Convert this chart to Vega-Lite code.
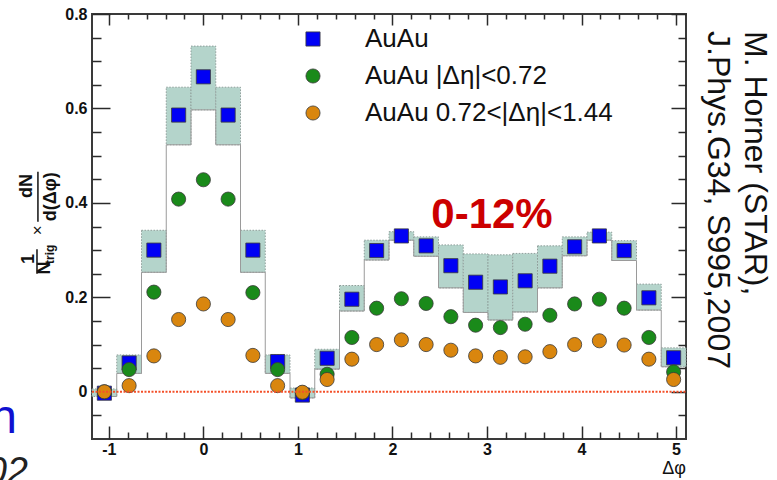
{
  "$schema": "https://vega.github.io/schema/vega-lite/v6.json",
  "width": 594,
  "height": 425,
  "autosize": {"type": "none"},
  "padding": {"left": 92, "top": 14, "right": 91, "bottom": 41},
  "background": "#ffffff",
  "config": {
    "font": "Liberation Sans",
    "view": {"stroke": "#3a3a3a", "strokeWidth": 2},
    "legend": {
      "orient": "none",
      "legendX": 208,
      "legendY": 12,
      "padding": 0,
      "labelFont": "Liberation Sans",
      "labelFontSize": 26,
      "labelColor": "#111111",
      "labelLimit": 0,
      "labelOffset": 39,
      "rowPadding": 11,
      "symbolSize": 200,
      "symbolStrokeColor": "#3a3a3a",
      "symbolStrokeWidth": 0.8
    }
  },
  "datasets": {
    "bins": [
      {"phi": -1.0472, "left": -1.1781, "right": -0.9163, "sys_lo": -0.010, "sys_hi": 0.006},
      {"phi": -0.7854, "left": -0.9163, "right": -0.6545, "sys_lo": 0.039, "sys_hi": 0.078},
      {"phi": -0.5236, "left": -0.6545, "right": -0.3927, "sys_lo": 0.253, "sys_hi": 0.342},
      {"phi": -0.2618, "left": -0.3927, "right": -0.1309, "sys_lo": 0.523, "sys_hi": 0.645},
      {"phi": 0.0, "left": -0.1309, "right": 0.1309, "sys_lo": 0.597, "sys_hi": 0.732},
      {"phi": 0.2618, "left": 0.1309, "right": 0.3927, "sys_lo": 0.523, "sys_hi": 0.645},
      {"phi": 0.5236, "left": 0.3927, "right": 0.6545, "sys_lo": 0.253, "sys_hi": 0.342},
      {"phi": 0.7854, "left": 0.6545, "right": 0.9163, "sys_lo": 0.039, "sys_hi": 0.078},
      {"phi": 1.0472, "left": 0.9163, "right": 1.1781, "sys_lo": -0.013, "sys_hi": 0.008},
      {"phi": 1.309, "left": 1.1781, "right": 1.4399, "sys_lo": 0.048, "sys_hi": 0.090},
      {"phi": 1.5708, "left": 1.4399, "right": 1.7017, "sys_lo": 0.171, "sys_hi": 0.225},
      {"phi": 1.8326, "left": 1.7017, "right": 1.9635, "sys_lo": 0.279, "sys_hi": 0.321},
      {"phi": 2.0944, "left": 1.9635, "right": 2.2253, "sys_lo": 0.321, "sys_hi": 0.339},
      {"phi": 2.3562, "left": 2.2253, "right": 2.4871, "sys_lo": 0.287, "sys_hi": 0.328},
      {"phi": 2.618, "left": 2.4871, "right": 2.7489, "sys_lo": 0.220, "sys_hi": 0.311},
      {"phi": 2.8798, "left": 2.7489, "right": 3.0107, "sys_lo": 0.168, "sys_hi": 0.292},
      {"phi": 3.1416, "left": 3.0107, "right": 3.2725, "sys_lo": 0.152, "sys_hi": 0.290},
      {"phi": 3.4034, "left": 3.2725, "right": 3.5343, "sys_lo": 0.169, "sys_hi": 0.293},
      {"phi": 3.6652, "left": 3.5343, "right": 3.7961, "sys_lo": 0.220, "sys_hi": 0.309},
      {"phi": 3.927, "left": 3.7961, "right": 4.0579, "sys_lo": 0.288, "sys_hi": 0.328},
      {"phi": 4.1888, "left": 4.0579, "right": 4.3197, "sys_lo": 0.321, "sys_hi": 0.338},
      {"phi": 4.4506, "left": 4.3197, "right": 4.5815, "sys_lo": 0.278, "sys_hi": 0.320},
      {"phi": 4.7124, "left": 4.5815, "right": 4.8433, "sys_lo": 0.173, "sys_hi": 0.228},
      {"phi": 4.9742, "left": 4.8433, "right": 5.1051, "sys_lo": 0.053, "sys_hi": 0.093}
    ],
    "points": [
      {"phi": -1.0472, "series": "AuAu", "yield": -0.003},
      {"phi": -0.7854, "series": "AuAu", "yield": 0.061},
      {"phi": -0.5236, "series": "AuAu", "yield": 0.300},
      {"phi": -0.2618, "series": "AuAu", "yield": 0.586},
      {"phi": 0.0, "series": "AuAu", "yield": 0.667},
      {"phi": 0.2618, "series": "AuAu", "yield": 0.586},
      {"phi": 0.5236, "series": "AuAu", "yield": 0.300},
      {"phi": 0.7854, "series": "AuAu", "yield": 0.064},
      {"phi": 1.0472, "series": "AuAu", "yield": -0.007},
      {"phi": 1.309, "series": "AuAu", "yield": 0.071},
      {"phi": 1.5708, "series": "AuAu", "yield": 0.196},
      {"phi": 1.8326, "series": "AuAu", "yield": 0.299},
      {"phi": 2.0944, "series": "AuAu", "yield": 0.330},
      {"phi": 2.3562, "series": "AuAu", "yield": 0.309},
      {"phi": 2.618, "series": "AuAu", "yield": 0.267},
      {"phi": 2.8798, "series": "AuAu", "yield": 0.232},
      {"phi": 3.1416, "series": "AuAu", "yield": 0.222},
      {"phi": 3.4034, "series": "AuAu", "yield": 0.235},
      {"phi": 3.6652, "series": "AuAu", "yield": 0.266},
      {"phi": 3.927, "series": "AuAu", "yield": 0.307},
      {"phi": 4.1888, "series": "AuAu", "yield": 0.330},
      {"phi": 4.4506, "series": "AuAu", "yield": 0.299},
      {"phi": 4.7124, "series": "AuAu", "yield": 0.199},
      {"phi": 4.9742, "series": "AuAu", "yield": 0.072},
      {"phi": -1.0472, "series": "AuAu |Δη|<0.72", "yield": 0.000},
      {"phi": -0.7854, "series": "AuAu |Δη|<0.72", "yield": 0.047},
      {"phi": -0.5236, "series": "AuAu |Δη|<0.72", "yield": 0.211},
      {"phi": -0.2618, "series": "AuAu |Δη|<0.72", "yield": 0.408},
      {"phi": 0.0, "series": "AuAu |Δη|<0.72", "yield": 0.449},
      {"phi": 0.2618, "series": "AuAu |Δη|<0.72", "yield": 0.408},
      {"phi": 0.5236, "series": "AuAu |Δη|<0.72", "yield": 0.210},
      {"phi": 0.7854, "series": "AuAu |Δη|<0.72", "yield": 0.047},
      {"phi": 1.0472, "series": "AuAu |Δη|<0.72", "yield": -0.002},
      {"phi": 1.309, "series": "AuAu |Δη|<0.72", "yield": 0.037},
      {"phi": 1.5708, "series": "AuAu |Δη|<0.72", "yield": 0.115},
      {"phi": 1.8326, "series": "AuAu |Δη|<0.72", "yield": 0.177},
      {"phi": 2.0944, "series": "AuAu |Δη|<0.72", "yield": 0.197},
      {"phi": 2.3562, "series": "AuAu |Δη|<0.72", "yield": 0.187},
      {"phi": 2.618, "series": "AuAu |Δη|<0.72", "yield": 0.159},
      {"phi": 2.8798, "series": "AuAu |Δη|<0.72", "yield": 0.141},
      {"phi": 3.1416, "series": "AuAu |Δη|<0.72", "yield": 0.136},
      {"phi": 3.4034, "series": "AuAu |Δη|<0.72", "yield": 0.143},
      {"phi": 3.6652, "series": "AuAu |Δη|<0.72", "yield": 0.162},
      {"phi": 3.927, "series": "AuAu |Δη|<0.72", "yield": 0.186},
      {"phi": 4.1888, "series": "AuAu |Δη|<0.72", "yield": 0.196},
      {"phi": 4.4506, "series": "AuAu |Δη|<0.72", "yield": 0.177},
      {"phi": 4.7124, "series": "AuAu |Δη|<0.72", "yield": 0.115},
      {"phi": 4.9742, "series": "AuAu |Δη|<0.72", "yield": 0.042},
      {"phi": -1.0472, "series": "AuAu 0.72<|Δη|<1.44", "yield": 0.000},
      {"phi": -0.7854, "series": "AuAu 0.72<|Δη|<1.44", "yield": 0.013},
      {"phi": -0.5236, "series": "AuAu 0.72<|Δη|<1.44", "yield": 0.076},
      {"phi": -0.2618, "series": "AuAu 0.72<|Δη|<1.44", "yield": 0.153},
      {"phi": 0.0, "series": "AuAu 0.72<|Δη|<1.44", "yield": 0.186},
      {"phi": 0.2618, "series": "AuAu 0.72<|Δη|<1.44", "yield": 0.153},
      {"phi": 0.5236, "series": "AuAu 0.72<|Δη|<1.44", "yield": 0.077},
      {"phi": 0.7854, "series": "AuAu 0.72<|Δη|<1.44", "yield": 0.013},
      {"phi": 1.0472, "series": "AuAu 0.72<|Δη|<1.44", "yield": -0.001},
      {"phi": 1.309, "series": "AuAu 0.72<|Δη|<1.44", "yield": 0.026},
      {"phi": 1.5708, "series": "AuAu 0.72<|Δη|<1.44", "yield": 0.069},
      {"phi": 1.8326, "series": "AuAu 0.72<|Δη|<1.44", "yield": 0.100},
      {"phi": 2.0944, "series": "AuAu 0.72<|Δη|<1.44", "yield": 0.110},
      {"phi": 2.3562, "series": "AuAu 0.72<|Δη|<1.44", "yield": 0.100},
      {"phi": 2.618, "series": "AuAu 0.72<|Δη|<1.44", "yield": 0.088},
      {"phi": 2.8798, "series": "AuAu 0.72<|Δη|<1.44", "yield": 0.076},
      {"phi": 3.1416, "series": "AuAu 0.72<|Δη|<1.44", "yield": 0.073},
      {"phi": 3.4034, "series": "AuAu 0.72<|Δη|<1.44", "yield": 0.074},
      {"phi": 3.6652, "series": "AuAu 0.72<|Δη|<1.44", "yield": 0.085},
      {"phi": 3.927, "series": "AuAu 0.72<|Δη|<1.44", "yield": 0.100},
      {"phi": 4.1888, "series": "AuAu 0.72<|Δη|<1.44", "yield": 0.108},
      {"phi": 4.4506, "series": "AuAu 0.72<|Δη|<1.44", "yield": 0.099},
      {"phi": 4.7124, "series": "AuAu 0.72<|Δη|<1.44", "yield": 0.069},
      {"phi": 4.9742, "series": "AuAu 0.72<|Δη|<1.44", "yield": 0.026}
    ]
  },
  "layer": [
    {
      "layer": [
        {
          "data": {"name": "bins"},
          "mark": {"type": "rect", "fill": "#b4d4cb", "stroke": "#8f9e9a", "strokeWidth": 1, "strokeDash": [1.5, 1.5]},
          "encoding": {
            "x": {
              "field": "left", "type": "quantitative",
              "scale": {"domain": [-1.1781, 5.1051], "nice": false, "zero": false},
              "axis": {
                "orient": "bottom",
                "values": [-1, -0.8, -0.6, -0.4, -0.2, 0, 0.2, 0.4, 0.6, 0.8, 1, 1.2, 1.4, 1.6, 1.8, 2, 2.2, 2.4, 2.6, 2.8, 3, 3.2, 3.4, 3.6, 3.8, 4, 4.2, 4.4, 4.6, 4.8, 5],
                "tickCount": 200,
                "tickSize": {"expr": "abs(datum.value - round(datum.value)) < 1e-6 ? -13 : -7"},
                "tickColor": "#2a2a2a",
                "tickWidth": 1.5,
                "domain": false,
                "grid": false,
                "labelPadding": 15,
                "labelExpr": "abs(datum.value - round(datum.value)) < 1e-6 ? '' + datum.value : ''",
                "labelFont": "Liberation Sans",
                "labelFontWeight": "bold",
                "labelFontSize": 16,
                "labelColor": "#111111",
                "labelFlush": false,
                "labelOverlap": false,
                "labelBound": false,
                "title": null
              }
            },
            "x2": {"field": "right"},
            "y": {
              "field": "sys_lo", "type": "quantitative",
              "scale": {"domain": [-0.1, 0.8], "nice": false, "zero": false},
              "axis": {
                "orient": "left",
                "values": [-0.05, 0, 0.05, 0.1, 0.15, 0.2, 0.25, 0.3, 0.35, 0.4, 0.45, 0.5, 0.55, 0.6, 0.65, 0.7, 0.75, 0.8],
                "tickCount": 200,
                "tickSize": {"expr": "abs(datum.value * 5 - round(datum.value * 5)) < 1e-6 ? -18 : -9"},
                "tickColor": "#2a2a2a",
                "tickWidth": 1.5,
                "domain": false,
                "grid": false,
                "labelPadding": 23,
                "labelExpr": "abs(datum.value * 5 - round(datum.value * 5)) < 1e-6 ? '' + datum.value : ''",
                "labelFont": "Liberation Sans",
                "labelFontWeight": "bold",
                "labelFontSize": 16,
                "labelColor": "#111111",
                "labelFlush": false,
                "labelOverlap": false,
                "labelBound": false,
                "title": null
              }
            },
            "y2": {"field": "sys_hi"}
          }
        },
        {
          "data": {"name": "bins"},
          "mark": {"type": "line", "interpolate": "step", "stroke": "#9a9a9a", "strokeWidth": 1},
          "encoding": {
            "x": {"field": "phi", "type": "quantitative"},
            "y": {"field": "sys_lo", "type": "quantitative"}
          }
        },
        {
          "data": {"name": "points"},
          "mark": {"type": "point", "filled": true, "opacity": 1, "stroke": "#3a3a3a", "strokeWidth": 0.8},
          "encoding": {
            "x": {"field": "phi", "type": "quantitative"},
            "y": {"field": "yield", "type": "quantitative"},
            "color": {
              "field": "series", "type": "nominal",
              "scale": {"domain": ["AuAu", "AuAu |Δη|<0.72", "AuAu 0.72<|Δη|<1.44"], "range": ["#0000f5", "#1a8a1a", "#d9860e"]},
              "legend": {"title": null}
            },
            "shape": {
              "field": "series", "type": "nominal",
              "scale": {"domain": ["AuAu", "AuAu |Δη|<0.72", "AuAu 0.72<|Δη|<1.44"], "range": ["square", "circle", "circle"]},
              "legend": {"title": null}
            },
            "size": {"value": 200}
          }
        },
        {
          "data": {"values": [{}]},
          "mark": {"type": "text", "text": "0-12%", "font": "Liberation Sans", "fontWeight": "bold", "fontSize": 42, "color": "#cc0000", "align": "center", "baseline": "alphabetic"},
          "encoding": {"x": {"datum": 3.053, "type": "quantitative"}, "y": {"datum": 0.347, "type": "quantitative"}}
        },
        {
          "data": {"values": [{}]},
          "mark": {"type": "text", "text": "M. Horner (STAR),", "font": "Liberation Sans", "fontSize": 32, "color": "#111111", "angle": 90, "align": "left", "baseline": "middle"},
          "encoding": {"x": {"datum": 5.83, "type": "quantitative"}, "y": {"datum": 0.764, "type": "quantitative"}}
        },
        {
          "data": {"values": [{}]},
          "mark": {"type": "text", "text": "J.Phys.G34, S995,2007", "font": "Liberation Sans", "fontSize": 32, "color": "#111111", "angle": 90, "align": "left", "baseline": "middle"},
          "encoding": {"x": {"datum": 5.44, "type": "quantitative"}, "y": {"datum": 0.764, "type": "quantitative"}}
        },
        {
          "data": {"values": [{}]},
          "mark": {"type": "text", "text": "dN", "font": "Liberation Sans", "fontWeight": "bold", "fontSize": 18, "color": "#111111", "angle": 270, "align": "center", "baseline": "middle"},
          "encoding": {"x": {"datum": -1.866, "type": "quantitative"}, "y": {"datum": 0.436, "type": "quantitative"}}
        },
        {
          "data": {"values": [{}]},
          "mark": {"type": "text", "text": "d(Δφ)", "font": "Liberation Sans", "fontWeight": "bold", "fontSize": 18, "color": "#111111", "angle": 270, "align": "center", "baseline": "middle"},
          "encoding": {"x": {"datum": -1.612, "type": "quantitative"}, "y": {"datum": 0.413, "type": "quantitative"}}
        },
        {
          "data": {"values": [{}]},
          "mark": {"type": "rule", "stroke": "#111111", "strokeWidth": 1.5},
          "encoding": {"x": {"datum": -1.75, "type": "quantitative"}, "y": {"datum": 0.466, "type": "quantitative"}, "y2": {"datum": 0.36}}
        },
        {
          "data": {"values": [{}]},
          "mark": {"type": "text", "text": "×", "font": "Liberation Sans", "fontSize": 17, "color": "#111111", "angle": 270, "align": "center", "baseline": "middle"},
          "encoding": {"x": {"datum": -1.75, "type": "quantitative"}, "y": {"datum": 0.342, "type": "quantitative"}}
        },
        {
          "data": {"values": [{}]},
          "mark": {"type": "text", "text": "1", "font": "Liberation Sans", "fontWeight": "bold", "fontSize": 18, "color": "#111111", "angle": 270, "align": "center", "baseline": "middle"},
          "encoding": {"x": {"datum": -1.845, "type": "quantitative"}, "y": {"datum": 0.281, "type": "quantitative"}}
        },
        {
          "data": {"values": [{}]},
          "mark": {"type": "rule", "stroke": "#111111", "strokeWidth": 1.5},
          "encoding": {"x": {"datum": -1.76, "type": "quantitative"}, "y": {"datum": 0.302, "type": "quantitative"}, "y2": {"datum": 0.25}}
        },
        {
          "data": {"values": [{}]},
          "mark": {"type": "text", "text": "N", "font": "Liberation Sans", "fontWeight": "bold", "fontSize": 18, "color": "#111111", "angle": 270, "align": "center", "baseline": "middle"},
          "encoding": {"x": {"datum": -1.67, "type": "quantitative"}, "y": {"datum": 0.262, "type": "quantitative"}}
        },
        {
          "data": {"values": [{}]},
          "mark": {"type": "text", "text": "trig", "font": "Liberation Sans", "fontWeight": "bold", "fontSize": 12, "color": "#111111", "angle": 270, "align": "center", "baseline": "middle"},
          "encoding": {"x": {"datum": -1.625, "type": "quantitative"}, "y": {"datum": 0.291, "type": "quantitative"}}
        },
        {
          "data": {"values": [{}]},
          "mark": {"type": "text", "text": "Δφ", "font": "Liberation Sans", "fontSize": 18, "color": "#111111", "align": "right", "baseline": "alphabetic"},
          "encoding": {"x": {"datum": 5.1051, "type": "quantitative"}, "y": {"datum": -0.175, "type": "quantitative"}}
        },
        {
          "data": {"values": [{}]},
          "mark": {"type": "text", "text": "n", "font": "Liberation Sans", "fontSize": 48, "color": "#1010d0", "align": "right", "baseline": "alphabetic"},
          "encoding": {"x": {"datum": -1.972, "type": "quantitative"}, "y": {"datum": -0.087, "type": "quantitative"}}
        },
        {
          "data": {"values": [{}]},
          "mark": {"type": "text", "text": "02", "font": "Liberation Sans", "fontSize": 38, "fontStyle": "italic", "color": "#222222", "align": "right", "baseline": "alphabetic"},
          "encoding": {"x": {"datum": -1.855, "type": "quantitative"}, "y": {"datum": -0.195, "type": "quantitative"}}
        }
      ]
    },
    {
      "data": {"values": [{}]},
      "mark": {"type": "rule", "stroke": "#f4502a", "strokeWidth": 2, "strokeDash": [2, 1.5]},
      "encoding": {
        "x": {
          "datum": -1.1781, "type": "quantitative",
          "scale": {"domain": [-1.1781, 5.1051], "nice": false, "zero": false},
          "axis": {
            "orient": "top",
            "values": [-1, -0.8, -0.6, -0.4, -0.2, 0, 0.2, 0.4, 0.6, 0.8, 1, 1.2, 1.4, 1.6, 1.8, 2, 2.2, 2.4, 2.6, 2.8, 3, 3.2, 3.4, 3.6, 3.8, 4, 4.2, 4.4, 4.6, 4.8, 5],
            "tickCount": 200,
            "tickSize": {"expr": "abs(datum.value - round(datum.value)) < 1e-6 ? -11 : -5"},
            "tickColor": "#2a2a2a",
            "tickWidth": 1.5,
            "domain": false,
            "grid": false,
            "labels": false,
            "title": null
          }
        },
        "x2": {"datum": 5.1051},
        "y": {
          "datum": 0, "type": "quantitative",
          "scale": {"domain": [-0.1, 0.8], "nice": false, "zero": false},
          "axis": {
            "orient": "right",
            "values": [-0.05, 0, 0.05, 0.1, 0.15, 0.2, 0.25, 0.3, 0.35, 0.4, 0.45, 0.5, 0.55, 0.6, 0.65, 0.7, 0.75, 0.8],
            "tickCount": 200,
            "tickSize": {"expr": "abs(datum.value * 5 - round(datum.value * 5)) < 1e-6 ? -15 : -8"},
            "tickColor": "#2a2a2a",
            "tickWidth": 1.5,
            "domain": false,
            "grid": false,
            "labels": false,
            "title": null
          }
        }
      }
    }
  ],
  "resolve": {"scale": {"x": "independent", "y": "independent"}}
}
